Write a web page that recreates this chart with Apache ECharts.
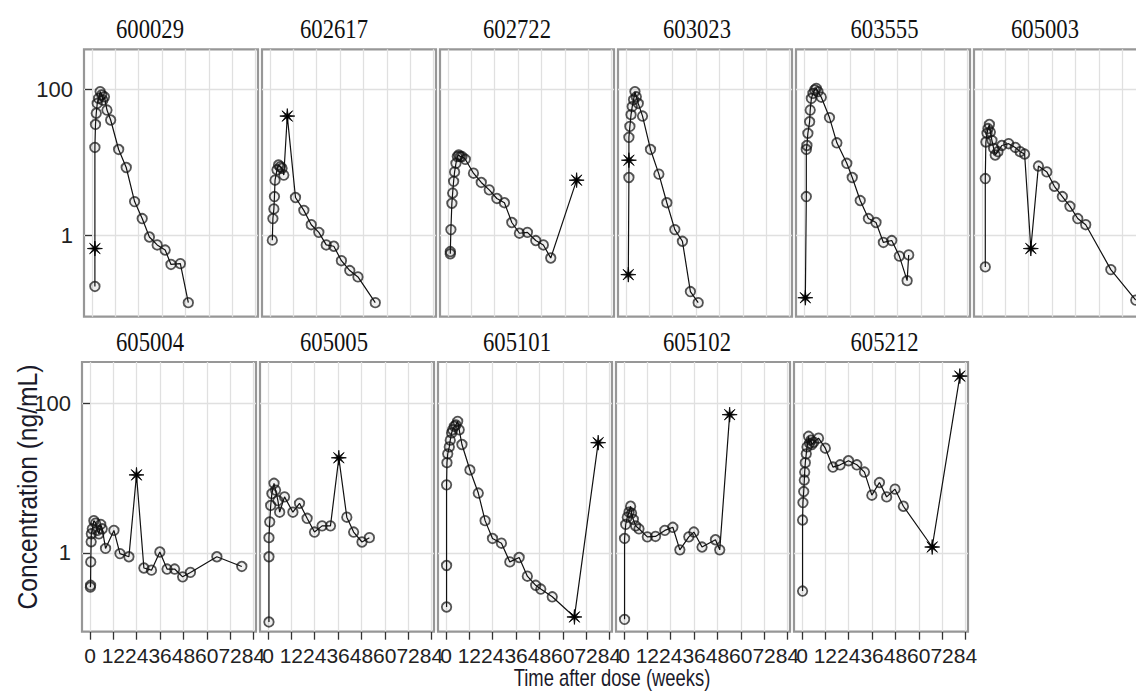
<!DOCTYPE html>
<html><head><meta charset="utf-8">
<script src="https://cdn.jsdelivr.net/npm/echarts@6/dist/echarts.min.js"></script>
<style>html,body{margin:0;padding:0;background:#fff}#c{width:1136px;height:697px}</style>
</head><body><div id="c"></div>
<script>
// ---- data (weeks, ng/mL); s_ = indices drawn as stars ----
const ids = ['600029','602617','602722','603023','603555','605003','605004','605005','605101','605102','605212'];

const t_600029 = [1.5,1.5,1.5,1.8,2.2,2.7,3.4,4.2,5.0,5.6,6.4,7.7,9.6,13.7,17.6,21.9,25.8,29.5,33.5,37.6,40.6,45.4,49.5];
const c_600029 = [0.20,0.66,16,33,47,64,75,93,84,71,79,52,38,15,8.5,2.9,1.7,0.95,0.74,0.63,0.40,0.41,0.12];
const s_600029 = [1];

const t_602617 = [1.2,1.5,2.0,2.3,2.6,3.6,4.4,5.3,6.2,7.1,8.9,13.1,17.4,21.2,25.1,28.9,32.8,36.7,41.0,45.2,54.1];
const c_602617 = [0.86,1.7,2.3,3.4,5.7,7.9,9.2,8.7,8.3,6.7,43,3.3,2.2,1.4,1.1,0.74,0.71,0.45,0.33,0.27,0.12];
const s_602617 = [10];

const t_602722 = [1.2,1.2,1.5,2.0,2.4,2.9,3.4,4.1,4.8,5.5,6.3,7.2,8.9,13.1,17.1,21.2,25.1,29.0,32.8,36.7,40.8,45.1,49.0,52.8,66.1];
const c_602722 = [0.56,0.6,1.2,2.75,3.8,5.5,7.4,9.7,12,12.6,12,12,11,7.1,5.3,4.2,3.2,2.8,1.5,1.07,1.1,0.85,0.74,0.49,5.7];
const s_602722 = [24];

const t_603023 = [1.2,1.5,1.5,1.5,2.0,2.6,3.2,3.9,4.6,5.3,6.3,8.5,12.6,16.9,21.0,25.1,29.0,33.1,37.1];
const c_603023 = [0.29,6.2,10.7,22,31,45,58,72,93,79,64,43,15,6.9,2.8,1.2,0.83,0.17,0.12];
const s_603023 = [0,2];

const t_603555 = [0.7,1.2,1.2,1.5,2.0,2.9,3.2,3.8,4.6,5.5,6.3,7.2,8.9,13.1,16.9,22.0,24.8,28.9,33.1,37.0,40.8,45.1,49.0,53.0,53.8];
const c_603555 = [0.14,3.4,15,17,25,36,52,75,88,98,103,93,78,41,18.5,9.7,6.2,3.0,1.7,1.5,0.8,0.85,0.52,0.24,0.54];
const s_603555 = [0];

const t_605003 = [1.7,1.7,2.0,2.6,3.1,3.8,4.3,5.1,6.0,6.8,8.2,10.2,13.7,17.1,19.6,21.9,25.1,29.0,33.3,37.2,41.3,45.2,49.2,53.3,66.2,79.0];
const c_605003 = [0.37,6.0,19,25,29,33,26,20,15.5,12.6,14,17,18,16,14,13,0.66,8.9,7.4,4.7,3.4,2.5,1.7,1.4,0.34,0.13];
const s_605003 = [16];

const t_605004 = [0.2,0.3,0.4,0.6,0.7,1.2,2.0,2.9,3.8,4.6,5.5,6.3,8.0,12.3,15.4,20.0,23.9,27.7,31.6,35.9,39.6,43.5,47.6,51.6,65.2,78.0];
const c_605004 = [0.35,0.37,0.76,1.41,1.8,2.1,2.7,2.5,2.0,1.8,2.4,2.1,1.15,2.0,0.98,0.89,11,0.63,0.59,1.03,0.61,0.61,0.48,0.55,0.89,0.66];
const s_605004 = [16];

const t_605005 = [0.5,0.5,0.5,0.9,1.4,2.0,3.1,3.9,5.1,6.0,8.5,12.8,16.2,20.1,23.9,27.8,32.1,36.4,40.5,44.0,48.3,52.1];
const c_605005 = [0.12,0.89,1.6,2.6,4.3,6.2,8.5,6.9,5.0,3.5,5.6,3.5,4.6,2.9,1.9,2.3,2.3,18.6,3.0,1.9,1.4,1.6];
const s_605005 = [17];

const t_605101 = [0.3,0.3,0.3,0.5,0.9,1.7,2.2,2.9,3.4,4.3,5.1,6.0,6.8,8.2,12.3,16.6,20.1,23.9,28.5,32.8,37.6,41.8,46.1,48.7,54.6,66.0,78.2];
const c_605101 = [0.19,0.68,8.1,16,21,26,32,40,44,49,51,57,44,28,12.8,6.3,2.7,1.56,1.35,0.76,0.87,0.49,0.37,0.33,0.26,0.14,29.6];
const s_605101 = [25,26];

const t_605102 = [0.3,0.3,0.9,1.7,2.6,3.4,3.9,4.8,6.0,7.7,12.0,16.2,21.0,25.1,28.7,33.3,35.9,40.1,47.0,49.2,54.3];
const c_605102 = [0.13,1.56,2.4,3.0,3.5,4.2,3.4,2.8,2.3,2.1,1.64,1.66,2.0,2.2,1.1,1.64,1.9,1.2,1.5,1.1,70];
const s_605102 = [20];

const t_605212 = [0.3,0.3,0.5,0.9,1.2,1.4,1.7,2.2,2.6,3.4,3.9,4.6,5.1,6.0,8.5,12.0,15.9,19.6,23.9,28.2,32.1,35.9,39.8,43.5,47.8,52.1,66.9,81.1];
const c_605212 = [0.31,2.75,4.7,6.6,9.4,12,16,21,26,36,29,32,28,30,34,25,14,15,17,15,12,5.9,8.7,5.6,7.1,4.2,1.2,229];
const s_605212 = [26,27];

const xTickValues = [0,12,24,36,48,60,72,84];
const yTickValues = [1,100];
const xTitle = 'Time after dose (weeks)';
const yTitle = 'Concentration (ng/mL)';

const times = [t_600029,t_602617,t_602722,t_603023,t_603555,t_605003,t_605004,t_605005,t_605101,t_605102,t_605212];
const concs = [c_600029,c_602617,c_602722,c_603023,c_603555,c_605003,c_605004,c_605005,c_605101,c_605102,c_605212];
const stars = [s_600029,s_602617,s_602722,s_603023,s_603555,s_605003,s_605004,s_605005,s_605101,s_605102,s_605212];

// ---- styling / layout ----
function starPath(n, rOut, rIn) {
  let d = '';
  for (let k = 0; k < 2 * n; k++) {
    const a = Math.PI * k / n - Math.PI / 2;
    const r = k % 2 === 0 ? rOut : rIn;
    d += (k === 0 ? 'M' : 'L') + (r * Math.cos(a)).toFixed(3) + ',' + (r * Math.sin(a)).toFixed(3);
  }
  return 'path://' + d + 'Z';
}
const STAR = starPath(8, 10, 2.4);
const sans = '"Liberation Sans", Arial, sans-serif';
const titleX = [150, 334, 517, 697, 884.5, 1045];

const grids = [], xAxes = [], yAxes = [], series = [], graphics = [];
for (let i = 0; i < ids.length; i++) {
  const row = i < 6 ? 0 : 1;
  const col = row === 0 ? i : i - 6;
  const left = (row === 0 ? 84 : 82) + 178 * col;
  const top = row === 0 ? 49.3 : 362;
  const height = row === 0 ? 267.4 : 269.7;
  const bottomRow = row === 1;
  const leftCol = col === 0;
  grids.push({left: left, top: top, width: 174, height: height, show: true,
    borderColor: '#979797', borderWidth: 2.2, backgroundColor: '#fff', containLabel: false, outerBoundsMode: 'none'});
  xAxes.push({type: 'value', gridIndex: i, min: -4.1, max: 85.3,
    axisLine: {show: false},
    axisTick: {show: bottomRow, customValues: xTickValues, length: 8, lineStyle: {color: '#333', width: 1.3}},
    axisLabel: {show: bottomRow, customValues: xTickValues, showMinLabel: true, showMaxLabel: true, hideOverlap: false,
      fontFamily: sans, fontSize: 21, color: '#222', margin: 13},
    splitLine: {show: true, lineStyle: {color: '#e0e0e0', width: 1.3}}
  });
  yAxes.push({type: 'log', logBase: 10, gridIndex: i,
    min: row === 0 ? 0.077 : 0.089, max: 353,
    axisLine: {show: false},
    axisTick: {show: leftCol, customValues: yTickValues, length: 7, lineStyle: {color: '#333', width: 1.3}},
    axisLabel: {show: leftCol, customValues: yTickValues, showMinLabel: true, showMaxLabel: true,
      fontFamily: sans, fontSize: 22, color: '#222', margin: 11},
    splitLine: {show: true, lineStyle: {color: '#e0e0e0', width: 1.3}}
  });
  const t = times[i], c = concs[i], s = stars[i];
  series.push({
    type: 'line', xAxisIndex: i, yAxisIndex: i, animation: false, silent: true,
    symbol: 'circle', symbolSize: 9.5, showAllSymbol: true,
    lineStyle: {color: '#111', width: 1.2},
    itemStyle: {color: 'rgba(0,0,0,0.06)', borderColor: 'rgba(20,20,20,0.72)', borderWidth: 1.8},
    data: t.map((x, j) => s.indexOf(j) >= 0
      ? {value: [x, c[j]], symbol: STAR, symbolSize: 15, itemStyle: {color: '#000', borderColor: '#000', borderWidth: 0.8}}
      : [x, c[j]])
  });
  graphics.push({type: 'text', x: titleX[col], y: row === 0 ? 29 : 342, scaleX: 0.84,
    style: {text: ids[i], font: '27px "Liberation Serif", serif', fill: '#111',
      align: 'center', verticalAlign: 'middle', textAlign: 'center', textVerticalAlign: 'middle'}});
}
graphics.push({type: 'text', x: 612, y: 678, scaleX: 0.8,
  style: {text: xTitle, font: '23px ' + sans, fill: '#1a1a2a', align: 'center', verticalAlign: 'middle', textAlign: 'center', textVerticalAlign: 'middle'}});
graphics.push({type: 'text', x: 27, y: 487, rotation: Math.PI / 2, scaleX: 0.88,
  style: {text: yTitle, font: '28px ' + sans, fill: '#1a1a2a', align: 'center', verticalAlign: 'middle', textAlign: 'center', textVerticalAlign: 'middle'}});

const chart = echarts.init(document.getElementById('c'), null, {renderer: 'svg'});
chart.setOption({
  backgroundColor: '#fff',
  animation: false,
  grid: grids, xAxis: xAxes, yAxis: yAxes, series: series,
  graphic: {elements: graphics}
});
</script></body></html>
